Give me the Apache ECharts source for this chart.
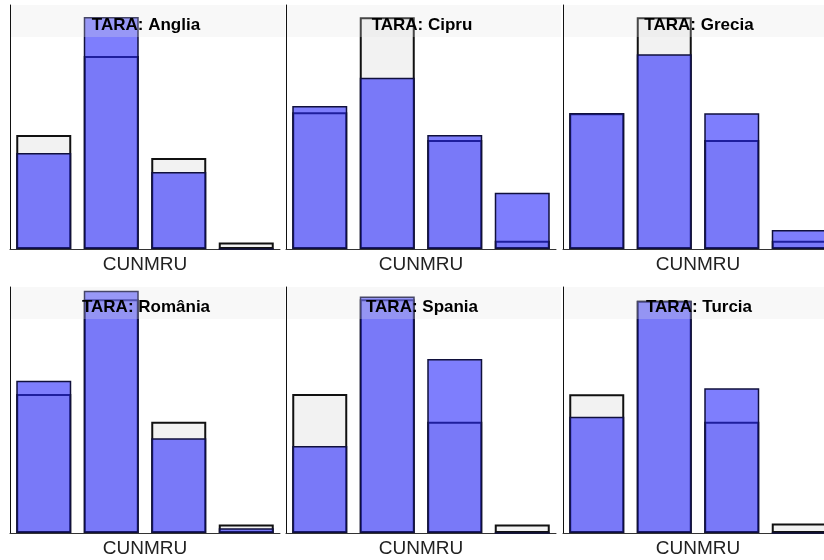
<!DOCTYPE html>
<html>
<head>
<meta charset="utf-8">
<script src="https://cdn.jsdelivr.net/npm/echarts@6/dist/echarts.min.js"></script>
<style>
html,body{margin:0;padding:0;background:#fff;overflow:hidden;width:824px;height:560px;}
#chart{width:850px;height:560px;}
</style>
</head>
<body>
<div id="chart"></div>
<script>
// Categories of CUNMRU (not labelled in the picture)
const categories = ['1', '2', '3', '4'];
const panelTitles = ['TARA: Anglia', 'TARA: Cipru', 'TARA: Grecia', 'TARA: România', 'TARA: Spania', 'TARA: Turcia'];
const axisName = 'CUNMRU';

// Light (reference) bars, per panel (panel scale 0-100)
const refAnglia  = [46.7, 79.1, 37.3, 2.7];
const refCipru   = [56.0, 95.0, 44.7, 3.4];
const refGrecia  = [55.6, 95.0, 44.7, 3.4];
const refRomania = [56.5, 95.0, 45.2, 3.5];
const refSpania  = [56.5, 95.0, 45.2, 3.5];
const refTurcia  = [56.4, 94.4, 45.2, 3.9];

// Blue (country) bars, per panel
const valAnglia  = [39.3, 95.1, 31.6, 0];
const valCipru   = [58.6, 70.2, 46.7, 23.1];
const valGrecia  = [55.7, 79.8, 55.6, 7.8];
const valRomania = [61.9, 98.5, 38.5, 1.9];
const valSpania  = [35.4, 96.1, 70.7, 0];
const valTurcia  = [47.3, 94.4, 58.8, 0];

const refSets = [refAnglia, refCipru, refGrecia, refRomania, refSpania, refTurcia];
const valSets = [valAnglia, valCipru, valGrecia, valRomania, valSpania, valTurcia];

const colLefts = [10, 286, 563];
const rowTops = [5, 287];
const rowHeights = [244, 246];
const gridWidth = 270;
const bandH = 32;

const grids = [], xAxes = [], yAxes = [], series = [], graphics = [];
const FONT = '"Liberation Sans", Arial, Helvetica, sans-serif';

for (let i = 0; i < 6; i++) {
  const r = Math.floor(i / 3), c = i % 3;
  const left = colLefts[c], top = rowTops[r], h = rowHeights[r];
  grids.push({ left: left, top: top, width: gridWidth, height: h, containLabel: false });
  xAxes.push({
    type: 'category', gridIndex: i, data: categories,
    axisLine: { show: true, lineStyle: { color: '#333', width: 1 } },
    axisTick: { show: false }, axisLabel: { show: false },
    name: axisName, nameLocation: 'middle', nameGap: 6,
    nameTextStyle: { fontFamily: FONT, fontSize: 19, color: '#222', verticalAlign: 'top' }
  });
  yAxes.push({
    type: 'value', gridIndex: i, min: 0, max: 100,
    axisLine: { show: true, lineStyle: { color: '#111', width: 1 } },
    axisTick: { show: false }, axisLabel: { show: false }, splitLine: { show: false }
  });
  series.push({
    type: 'bar', xAxisIndex: i, yAxisIndex: i, data: refSets[i],
    barWidth: 55, barGap: '-100%', z: 2,
    itemStyle: { color: '#f2f2f2', borderColor: '#111', borderWidth: 2 },
    emphasis: { disabled: true }, silent: true, animation: false
  });
  series.push({
    type: 'bar', xAxisIndex: i, yAxisIndex: i, data: valSets[i],
    barWidth: 55, barGap: '-100%', z: 3,
    itemStyle: { color: 'rgba(40,40,252,0.6)', borderColor: '#10103c', borderWidth: 1.5 },
    emphasis: { disabled: true }, silent: true, animation: false
  });
  graphics.push({
    type: 'rect', z: 50, silent: true,
    shape: { x: left + 1, y: top, width: gridWidth + 4, height: bandH },
    style: { fill: 'rgba(228,228,228,0.26)' }
  });
  graphics.push({
    type: 'text', z: 60, silent: true,
    style: {
      text: panelTitles[i], x: left + gridWidth / 2 + 1, y: top + 20.5,
      align: 'center', verticalAlign: 'middle',
      textAlign: 'center', textVerticalAlign: 'middle',
      font: 'bold 17px ' + FONT, fill: '#000'
    }
  });
}

const chart = echarts.init(document.getElementById('chart'), null, { renderer: 'canvas' });
chart.setOption({
  animation: false,
  backgroundColor: '#ffffff',
  grid: grids, xAxis: xAxes, yAxis: yAxes, series: series,
  graphic: graphics
});
</script>
</body>
</html>
